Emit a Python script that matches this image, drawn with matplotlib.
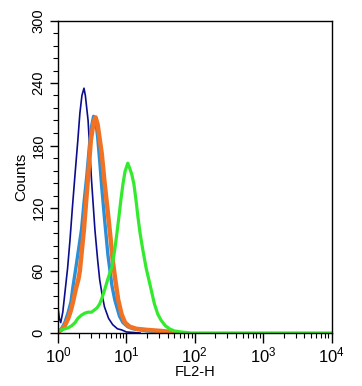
import numpy as np
import matplotlib
matplotlib.use("Agg")
import matplotlib.pyplot as plt
from matplotlib.ticker import MultipleLocator, LogLocator, NullFormatter

plt.rcParams['font.family'] = ['Liberation Sans', 'DejaVu Sans']
plt.rcParams['mathtext.fontset'] = 'custom'
plt.rcParams['mathtext.rm'] = 'Liberation Sans'
plt.rcParams['mathtext.it'] = 'Liberation Sans'

# x values are log10(FL2-H)
navy_log = [0.00, 0.02, 0.04, 0.07, 0.10, 0.14, 0.175, 0.21, 0.25, 0.29, 0.32, 0.35, 0.38, 0.40,
            0.44, 0.49, 0.54, 0.58, 0.61, 0.65, 0.68, 0.74, 0.80, 0.87, 0.93, 1.00, 1.20]
navy_cnt = [24, 14, 10, 20, 38, 62, 89, 120, 153, 185, 211, 228, 235, 228,
            204, 147, 99, 70, 51, 35, 25, 14, 8, 4, 3, 1, 0]

blue_log = [0.00, 0.05, 0.10, 0.15, 0.19, 0.22, 0.26, 0.30, 0.345, 0.38, 0.42, 0.46, 0.49, 0.52,
            0.55, 0.58, 0.61, 0.64, 0.68, 0.73, 0.76, 0.79, 0.83, 0.86, 0.90, 0.95, 1.02,
            1.10, 1.30, 1.50, 1.70]
blue_cnt = [1, 4, 10, 20, 30, 45, 62, 80, 100, 125, 150, 180, 198, 208,
            205, 188, 165, 140, 110, 75, 60, 45, 32, 25, 16, 10, 6,
            4, 2, 1, 0]

orange_log = [0.00, 0.05, 0.10, 0.15, 0.19, 0.22, 0.26, 0.30, 0.32, 0.35, 0.38, 0.41, 0.44, 0.48,
              0.52, 0.55, 0.58, 0.64, 0.68, 0.73, 0.77, 0.80, 0.84, 0.88, 0.93, 0.98, 1.05,
              1.15, 1.30, 1.50, 1.67, 1.75]
orange_cnt = [1, 3, 7, 14, 22, 30, 42, 52, 60, 80, 100, 125, 150, 185,
              202, 207, 200, 172, 145, 115, 90, 70, 50, 32, 18, 10, 6,
              4, 3, 2, 1, 0]

green_log = [0.00, 0.05, 0.10, 0.15, 0.20, 0.25, 0.29, 0.34, 0.39, 0.44, 0.49, 0.53, 0.57, 0.61,
             0.64, 0.68, 0.73, 0.79, 0.83, 0.86, 0.89, 0.92, 0.95, 0.98, 1.02, 1.05, 1.08, 1.11,
             1.14, 1.17, 1.20, 1.24, 1.29, 1.34, 1.41, 1.46, 1.51, 1.57, 1.63, 1.70, 1.80,
             1.95, 4.00]
green_cnt = [2, 3, 4, 5, 7, 10, 14, 17, 19, 20, 20, 22, 24, 28,
             33, 41, 52, 64, 80, 95, 111, 128, 143, 155, 163, 158, 152, 143,
             128, 111, 96, 80, 62, 48, 28, 18, 12, 7, 4, 2, 1,
             0, 0]

y_ticks = [0, 60, 120, 180, 240, 300]

fig = plt.figure(figsize=(3.62, 3.86), dpi=100)
ax = fig.add_axes([58/362, 1-333/386, (331.5-58)/362, (333-20.5)/386])

ax.plot(10**np.array(navy_log), navy_cnt, color='#0c0c8e', lw=1.2)
ax.plot(10**np.array(blue_log), blue_cnt, color='#2a8fd8', lw=2.4)
ax.plot(10**np.array(orange_log), orange_cnt, color='#f07222', lw=3.2)
ax.plot(10**np.array(green_log), green_cnt, color='#33ea2e', lw=2.3)

ax.set_xscale('log')
ax.set_xlim(1, 1e4)
ax.set_ylim(0, 300)
ax.set_yticks(y_ticks)
ax.set_yticklabels([str(v) for v in y_ticks], rotation=90, va='center', fontsize=10.5)
ax.yaxis.set_minor_locator(MultipleLocator(12))
ax.xaxis.set_major_locator(LogLocator(base=10, numticks=10))
ax.xaxis.set_minor_locator(LogLocator(base=10, subs=np.arange(2, 10), numticks=20))
ax.xaxis.set_minor_formatter(NullFormatter())
ax.tick_params(axis='x', which='major', length=7, width=1, labelsize=12, pad=2)
ax.tick_params(axis='x', which='minor', length=3.5, width=0.8)
ax.tick_params(axis='y', which='major', length=6, width=1, pad=3)
ax.tick_params(axis='y', which='minor', length=3.5, width=0.8)
for s in ax.spines.values():
    s.set_linewidth(1.0)

ax.set_ylabel('Counts', fontsize=11, labelpad=2)
ax.set_xlabel('FL2-H', fontsize=10.5, labelpad=0)

fig.savefig('out.png', dpi=100)
